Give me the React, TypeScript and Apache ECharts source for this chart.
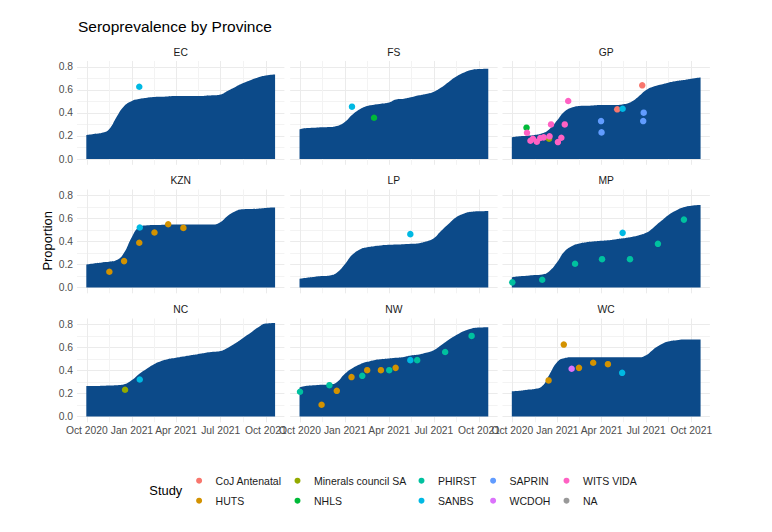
import React, { useEffect, useRef } from 'react';
import * as echarts from 'echarts';

// ---------- data ----------
const provinces = ['EC', 'FS', 'GP', 'KZN', 'LP', 'MP', 'NC', 'NW', 'WC'];

const curveDates = [
  '2020-09-30', '2020-10-15', '2020-11-01', '2020-11-15', '2020-12-01', '2020-12-15',
  '2021-01-01', '2021-01-15', '2021-02-01', '2021-02-15', '2021-03-01', '2021-03-15',
  '2021-04-01', '2021-04-15', '2021-05-01', '2021-05-15', '2021-06-01', '2021-06-15',
  '2021-07-01', '2021-07-15', '2021-08-01', '2021-08-15', '2021-09-01', '2021-09-15',
  '2021-10-01', '2021-10-20',
];

const curveEC = [0.208, 0.217, 0.228, 0.257, 0.367, 0.454, 0.503, 0.52, 0.532, 0.538, 0.54, 0.543, 0.546, 0.546, 0.546, 0.546, 0.549, 0.552, 0.56, 0.59, 0.627, 0.656, 0.685, 0.708, 0.725, 0.734];
const curveFS = [0.257, 0.269, 0.272, 0.275, 0.277, 0.286, 0.324, 0.382, 0.434, 0.46, 0.471, 0.48, 0.491, 0.517, 0.523, 0.535, 0.552, 0.564, 0.584, 0.618, 0.671, 0.714, 0.751, 0.772, 0.78, 0.783];
const curveGP = [0.188, 0.197, 0.202, 0.208, 0.223, 0.257, 0.338, 0.41, 0.448, 0.46, 0.462, 0.465, 0.468, 0.468, 0.468, 0.474, 0.497, 0.54, 0.598, 0.627, 0.647, 0.662, 0.676, 0.685, 0.697, 0.708];
const curveKZN = [0.2, 0.209, 0.218, 0.223, 0.238, 0.295, 0.439, 0.52, 0.54, 0.543, 0.543, 0.546, 0.546, 0.546, 0.546, 0.546, 0.546, 0.546, 0.569, 0.621, 0.664, 0.679, 0.681, 0.684, 0.69, 0.693];
const curveLP = [0.076, 0.085, 0.094, 0.099, 0.105, 0.128, 0.203, 0.281, 0.333, 0.35, 0.359, 0.365, 0.37, 0.373, 0.376, 0.379, 0.385, 0.399, 0.428, 0.488, 0.555, 0.607, 0.641, 0.656, 0.661, 0.664];
const curveMP = [0.088, 0.097, 0.102, 0.108, 0.114, 0.14, 0.223, 0.31, 0.362, 0.382, 0.393, 0.399, 0.405, 0.41, 0.419, 0.427, 0.439, 0.451, 0.474, 0.517, 0.578, 0.627, 0.67, 0.696, 0.71, 0.716];
const curveNC = [0.264, 0.264, 0.267, 0.27, 0.272, 0.278, 0.316, 0.367, 0.417, 0.454, 0.48, 0.497, 0.509, 0.52, 0.532, 0.541, 0.552, 0.561, 0.569, 0.595, 0.638, 0.679, 0.728, 0.771, 0.806, 0.811];
const curveNW = [0.252, 0.267, 0.272, 0.275, 0.278, 0.298, 0.373, 0.417, 0.454, 0.474, 0.489, 0.497, 0.503, 0.509, 0.517, 0.529, 0.538, 0.552, 0.575, 0.615, 0.667, 0.705, 0.742, 0.762, 0.771, 0.774];
const curveWC = [0.218, 0.223, 0.232, 0.238, 0.264, 0.358, 0.474, 0.506, 0.514, 0.514, 0.514, 0.514, 0.514, 0.514, 0.514, 0.514, 0.514, 0.514, 0.532, 0.58, 0.626, 0.65, 0.661, 0.667, 0.667, 0.667];

type Pt = [string, number, string];

const pointsEC: Pt[] = [['2021-01-16', 0.627, 'SANBS']];
const pointsFS: Pt[] = [['2021-01-15', 0.454, 'SANBS'], ['2021-03-01', 0.358, 'NHLS']];
const pointsGP: Pt[] = [
  ['2020-10-30', 0.272, 'NHLS'],
  ['2020-10-31', 0.228, 'WITS VIDA'],
  ['2020-11-07', 0.159, 'WITS VIDA'],
  ['2020-11-12', 0.176, 'WITS VIDA'],
  ['2020-11-20', 0.15, 'WITS VIDA'],
  ['2020-11-27', 0.182, 'WITS VIDA'],
  ['2020-12-04', 0.188, 'WITS VIDA'],
  ['2020-12-15', 0.176, 'Minerals council SA'],
  ['2020-12-16', 0.197, 'WITS VIDA'],
  ['2020-12-19', 0.3, 'WITS VIDA'],
  ['2021-01-02', 0.147, 'WITS VIDA'],
  ['2021-01-09', 0.185, 'WITS VIDA'],
  ['2021-01-16', 0.3, 'WITS VIDA'],
  ['2021-01-23', 0.503, 'WITS VIDA'],
  ['2021-03-31', 0.329, 'SAPRIN'],
  ['2021-04-01', 0.231, 'SAPRIN'],
  ['2021-05-03', 0.431, 'CoJ Antenatal'],
  ['2021-05-14', 0.436, 'SANBS'],
  ['2021-06-23', 0.639, 'CoJ Antenatal'],
  ['2021-06-26', 0.402, 'SAPRIN'],
  ['2021-06-25', 0.329, 'SAPRIN'],
];
const pointsKZN: Pt[] = [
  ['2020-11-16', 0.137, 'HUTS'],
  ['2020-12-16', 0.229, 'HUTS'],
  ['2021-01-16', 0.388, 'HUTS'],
  ['2021-01-17', 0.52, 'SANBS'],
  ['2021-02-16', 0.477, 'HUTS'],
  ['2021-03-16', 0.549, 'HUTS'],
  ['2021-04-16', 0.517, 'HUTS'],
];
const pointsLP: Pt[] = [['2021-05-14', 0.463, 'SANBS']];
const pointsMP: Pt[] = [
  ['2020-10-01', 0.045, 'PHIRST'],
  ['2020-12-01', 0.068, 'PHIRST'],
  ['2021-02-06', 0.206, 'PHIRST'],
  ['2021-04-02', 0.246, 'PHIRST'],
  ['2021-05-29', 0.246, 'PHIRST'],
  ['2021-07-25', 0.379, 'PHIRST'],
  ['2021-09-16', 0.589, 'PHIRST'],
  ['2021-05-14', 0.474, 'SANBS'],
];
const pointsNC: Pt[] = [['2020-12-18', 0.232, 'Minerals council SA'], ['2021-01-17', 0.321, 'SANBS']];
const pointsNW: Pt[] = [
  ['2020-10-01', 0.215, 'PHIRST'],
  ['2020-11-14', 0.102, 'HUTS'],
  ['2020-11-30', 0.272, 'PHIRST'],
  ['2020-12-15', 0.223, 'HUTS'],
  ['2021-01-14', 0.342, 'HUTS'],
  ['2021-02-05', 0.353, 'PHIRST'],
  ['2021-02-15', 0.402, 'HUTS'],
  ['2021-03-15', 0.402, 'HUTS'],
  ['2021-04-01', 0.402, 'PHIRST'],
  ['2021-04-14', 0.422, 'HUTS'],
  ['2021-05-14', 0.489, 'SANBS'],
  ['2021-05-28', 0.489, 'PHIRST'],
  ['2021-07-24', 0.56, 'PHIRST'],
  ['2021-09-16', 0.699, 'PHIRST'],
];
const pointsWC: Pt[] = [
  ['2020-12-14', 0.313, 'HUTS'],
  ['2021-01-14', 0.624, 'HUTS'],
  ['2021-01-30', 0.414, 'WCDOH'],
  ['2021-02-14', 0.422, 'HUTS'],
  ['2021-03-15', 0.466, 'HUTS'],
  ['2021-04-14', 0.454, 'HUTS'],
  ['2021-05-13', 0.379, 'SANBS'],
];

const curves = [curveEC, curveFS, curveGP, curveKZN, curveLP, curveMP, curveNC, curveNW, curveWC];
const points = [pointsEC, pointsFS, pointsGP, pointsKZN, pointsLP, pointsMP, pointsNC, pointsNW, pointsWC];

const studies = ['CoJ Antenatal', 'HUTS', 'Minerals council SA', 'NHLS', 'PHIRST', 'SANBS', 'SAPRIN', 'WCDOH', 'WITS VIDA', 'NA'];
const studyColors = ['#F8766D', '#D39200', '#93AA00', '#00BA38', '#00C19F', '#00B9E3', '#619CFF', '#DB72FB', '#FF61C3', '#7F7F7F'];

const majorBreaks = ['2020-10-01', '2021-01-01', '2021-04-01', '2021-07-01', '2021-10-01'];
const allBreaks = ['2020-10-01', '2020-11-16', '2021-01-01', '2021-02-15', '2021-04-01', '2021-05-16', '2021-07-01', '2021-08-16', '2021-10-01'];
const xMin = '2020-09-11';
const xMax = '2021-11-08';
const yTicks = [0, 0.2, 0.4, 0.6, 0.8];

// ---------- layout ----------
const FONT = 'Liberation Sans, Arial, Helvetica, sans-serif';
const colLeft = [77, 290.2, 502.5];
const rowTop = [61, 189.5, 318.5];
const PW = 207.4;
const PH = 103.8;
const AREA = '#0C4A89';
const MONTHS = ['Jan', 'Feb', 'Mar', 'Apr', 'May', 'Jun', 'Jul', 'Aug', 'Sep', 'Oct', 'Nov', 'Dec'];

const t = (s: string) => new Date(s + 'T00:00:00').getTime();

function buildOption() {
  const grid: any[] = [];
  const xAxis: any[] = [];
  const yAxis: any[] = [];
  const series: any[] = [];
  const graphic: any[] = [];

  provinces.forEach((p, i) => {
    const r = Math.floor(i / 3);
    const c = i % 3;
    grid.push({ left: colLeft[c], top: rowTop[r], width: PW, height: PH, containLabel: false });
    xAxis.push({
      type: 'value',
      gridIndex: i,
      min: t(xMin),
      max: t(xMax),
      axisLine: { show: false },
      axisTick: { show: false, customValues: allBreaks.map(t) },
      axisLabel: {
        show: r === 2,
        customValues: majorBreaks.map(t),
        fontSize: 10.3,
        color: '#4D4D4D',
        fontFamily: FONT,
        margin: 3,
        showMinLabel: true,
        showMaxLabel: true,
        formatter: (v: number) => {
          const d = new Date(v);
          return MONTHS[d.getMonth()] + ' ' + d.getFullYear();
        },
      },
      splitLine: { show: true, lineStyle: { color: ['#EBEBEB', '#F3F3F3'], width: 1 } },
    });
    yAxis.push({
      type: 'value',
      gridIndex: i,
      min: -0.05,
      max: 0.85,
      interval: 0.05,
      axisLine: { show: false },
      axisTick: { show: false },
      axisLabel: {
        show: c === 0,
        interval: 0,
        fontSize: 10.3,
        color: '#4D4D4D',
        fontFamily: FONT,
        margin: 4,
        formatter: (v: number) => {
          const hit = yTicks.find((k) => Math.abs(k - v) < 1e-6);
          return hit === undefined ? '' : hit.toFixed(1);
        },
      },
      splitLine: {
        show: true,
        lineStyle: { color: ['rgba(0,0,0,0)', '#EBEBEB', 'rgba(0,0,0,0)', '#F3F3F3'], width: 1 },
      },
    });
    series.push({
      type: 'line',
      name: p + ' curve',
      xAxisIndex: i,
      yAxisIndex: i,
      data: curveDates.map((d, k) => [t(d), curves[i][k]]),
      showSymbol: false,
      symbol: 'none',
      smooth: 0.5,
      lineStyle: { width: 0, color: AREA },
      areaStyle: { color: AREA, opacity: 1 },
      itemStyle: { color: AREA },
      silent: true,
      z: 2,
    });
    studies.forEach((s, si) => {
      const pts = points[i].filter((q) => q[2] === s);
      if (!pts.length) return;
      series.push({
        type: 'scatter',
        name: s,
        xAxisIndex: i,
        yAxisIndex: i,
        data: pts.map((q) => [t(q[0]), q[1]]),
        symbol: 'circle',
        symbolSize: 6.5,
        itemStyle: { color: studyColors[si], opacity: 1 },
        z: 3,
      });
    });
    graphic.push({
      type: 'text',
      x: colLeft[c] + PW / 2,
      y: rowTop[r] - 8.7,
      style: { text: p, fill: '#1A1A1A', font: `10.3px ${FONT}`, textAlign: 'center', textVerticalAlign: 'middle' },
    });
  });

  // NA legend entry (no observations)
  series.push({
    type: 'scatter',
    name: 'NA',
    xAxisIndex: 0,
    yAxisIndex: 0,
    data: [],
    symbol: 'circle',
    symbolSize: 6.5,
    itemStyle: { color: studyColors[9] },
  });

  graphic.push(
    {
      type: 'text',
      x: 78,
      y: 26.6,
      style: { text: 'Seroprevalence by Province', fill: '#000', font: `15.5px ${FONT}`, textAlign: 'left', textVerticalAlign: 'middle' },
    },
    {
      type: 'text',
      x: 47.5,
      y: 240.8,
      rotation: Math.PI / 2,
      style: { text: 'Proportion', fill: '#000', font: `12.9px ${FONT}`, textAlign: 'center', textVerticalAlign: 'middle' },
    },
    {
      type: 'text',
      x: 149.3,
      y: 490.7,
      style: { text: 'Study', fill: '#000', font: `12.9px ${FONT}`, textAlign: 'left', textVerticalAlign: 'middle' },
    }
  );

  const legendCols = [196.1, 294.5, 418.5, 490.1, 563.5];
  const legend = legendCols.map((left, k) => ({
    orient: 'vertical',
    left,
    top: 474.7,
    padding: 0,
    itemWidth: 23,
    itemHeight: 6,
    itemGap: 8,
    icon: 'circle',
    selectedMode: false,
    data: [studies[k * 2], studies[k * 2 + 1]],
    textStyle: { fontSize: 10.5, color: '#1A1A1A', fontFamily: FONT, lineHeight: 12 },
  }));

  return {
    animation: false,
    backgroundColor: '#fff',
    textStyle: { fontFamily: FONT },
    grid,
    xAxis,
    yAxis,
    series,
    legend,
    graphic,
  };
}

export default function App() {
  const ref = useRef<HTMLDivElement>(null);
  useEffect(() => {
    if (!ref.current) return;
    const chart = echarts.init(ref.current, undefined, { renderer: 'svg' });
    chart.setOption(buildOption() as any);
    return () => chart.dispose();
  }, []);
  return (
    <div
      ref={ref}
      style={{ position: 'fixed', left: 0, top: 0, width: 772, height: 532, background: '#fff' }}
    />
  );
}
